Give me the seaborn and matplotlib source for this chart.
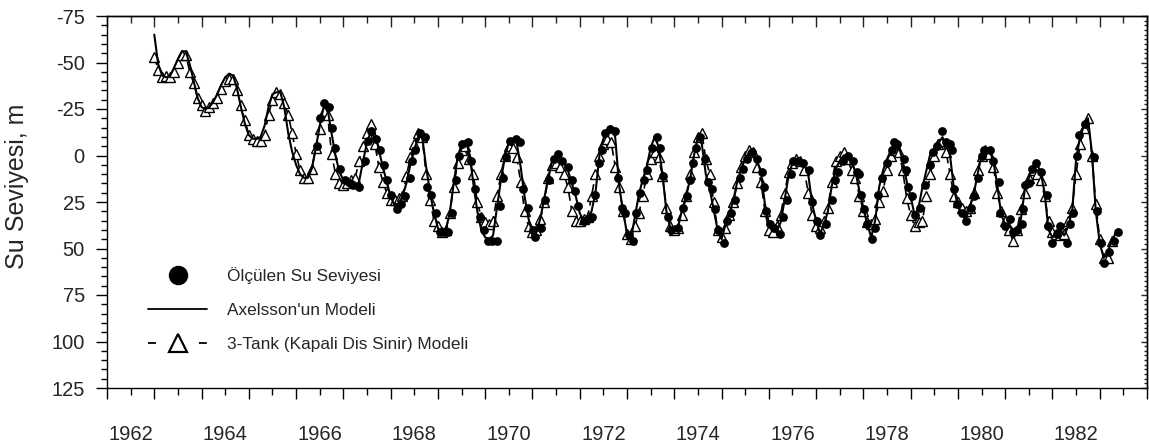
import numpy as np
import pandas as pd
import matplotlib
matplotlib.use("Agg")
import matplotlib.pyplot as plt
from matplotlib.lines import Line2D
from matplotlib.ticker import MultipleLocator, FixedLocator, FuncFormatter, NullFormatter
import seaborn as sns

# ---- model output, monthly from January 1963 (water level, m) ----
axelsson_level = [
    -65, -49, -43, -42, -43, -47, -52, -56, -56, -49, -40, -31,   # 1963
    -26, -25, -26, -29, -33, -38, -42, -44, -43, -36, -26, -17,   # 1964
    -11, -9, -9, -10, -16, -26, -33, -34, -34, -26, -12, -2,      # 1965
    5, 10, 12, 12, 7, -4, -16, -26, -25, -12, 0, 9,               # 1966
    13, 15, 16, 17, 14, 3, -7, -13, -12, -3, 6, 14,               # 1967
    22, 27, 26, 22, 15, 5, -3, -10, -10, 6, 20, 31,               # 1968
    39, 42, 40, 31, 15, 1, -6, -8, -1, 15, 30, 40,                # 1969
    44, 45, 43, 28, 13, 1, -7, -9, -7, 6, 22, 34,                 # 1970
    42, 41, 34, 23, 12, 3, -1, 1, 4, 8, 15, 22,                   # 1971
    31, 35, 34, 30, 20, 0, -9, -14, -14, -10, 16, 30,             # 1972
    42, 45, 33, 21, 13, 6, -4, -10, -5, 10, 30, 39,               # 1973
    40, 38, 29, 22, 13, 0, -10, -6, 10, 18, 29, 40,               # 1974
    45, 37, 31, 24, 14, 7, 2, -2, -1, 3, 9, 26,                   # 1975
    36, 39, 41, 36, 24, 11, 4, 2, 3, 5, 10, 26,                   # 1976
    35, 42, 37, 30, 16, 7, 3, 0, 0, 3, 9, 19,                     # 1977
    28, 37, 44, 35, 17, 8, 2, -3, -7, -5, 3, 14,                  # 1978
    22, 32, 28, 17, 8, -1, -4, -8, -9, -6, 0, 18,                 # 1979
    27, 32, 34, 28, 21, 10, 0, -3, -3, 3, 16, 32,                 # 1980
    37, 37, 40, 40, 34, 18, 12, 6, 4, 9, 20, 40,                  # 1981
    44, 42, 40, 43, 38, 30, 2, -10, -16, -20, -2, 30,             # 1982
    47, 55, 52, 46, 42,                                           # 1983
]

tank3_level = [
    -53, -46, -42, -43, -42, -45, -50, -54, -54, -45, -39, -31,   # 1963
    -27, -24, -26, -28, -31, -36, -40, -41, -41, -35, -27, -19,   # 1964
    -11, -9, -8, -8, -11, -22, -30, -34, -33, -28, -22, -12,      # 1965
    -1, 8, 12, 12, 7, -4, -14, -24, -22, -1, 10, 15,              # 1966
    16, 15, 13, 12, 3, -5, -12, -17, -6, 6, 14, 20,               # 1967
    24, 24, 23, 22, 11, 1, -6, -12, -10, 10, 24, 35,              # 1968
    38, 41, 40, 31, 17, 4, -3, -5, 2, 10, 25, 33,                 # 1969
    36, 37, 35, 22, 10, 0, -5, -4, 1, 14, 30, 38,                 # 1970
    41, 40, 34, 25, 12, 5, 4, 6, 10, 17, 30, 35,                  # 1971
    35, 34, 33, 22, 10, 0, -6, -9, -7, 6, 17, 30,                 # 1972
    42, 45, 38, 31, 22, 10, 2, -2, 1, 11, 28, 38,                 # 1973
    40, 39, 32, 22, 10, -2, -10, -12, 2, 10, 25, 40,              # 1974
    44, 39, 32, 25, 15, 6, 0, -3, -2, 6, 14, 30,                  # 1975
    40, 41, 38, 32, 20, 9, 4, 2, 3, 8, 20, 32,                    # 1976
    38, 39, 35, 28, 14, 3, 0, -2, 2, 8, 12, 22,                   # 1977
    30, 36, 37, 34, 25, 19, 8, 0, -3, -2, 8, 23,                  # 1978
    32, 38, 36, 35, 22, 10, 0, -6, -8, -2, 10, 22,                # 1979
    25, 28, 30, 28, 20, 8, 0, -3, -1, 6, 20, 30,                  # 1980
    35, 40, 46, 40, 29, 20, 12, 8, 10, 13, 22, 35,                # 1981
    41, 42, 43, 42, 35, 28, 10, -6, -15, -20, 0, 26,              # 1982
    45, 55, 55, 46,                                               # 1983
]

# ---- measured water level (decimal year, m) ----
measured_year = [
    1966.45, 1966.50, 1966.60, 1966.70, 1966.76, 1966.83, 1966.92,
    1967.03, 1967.13, 1967.21, 1967.33, 1967.46, 1967.53, 1967.58, 1967.68, 1967.77, 1967.85, 1967.92,
    1968.00, 1968.13, 1968.22, 1968.30, 1968.40, 1968.45, 1968.52, 1968.62, 1968.72, 1968.77, 1968.86, 1968.96,
    1969.04, 1969.13, 1969.22, 1969.29, 1969.39, 1969.45, 1969.51, 1969.63, 1969.71, 1969.79, 1969.89, 1969.97,
    1970.06, 1970.15, 1970.24, 1970.31, 1970.38, 1970.45, 1970.53, 1970.65, 1970.74, 1970.81, 1970.91,
    1971.02, 1971.06, 1971.19, 1971.27, 1971.35, 1971.45, 1971.55, 1971.63, 1971.76, 1971.83, 1971.90, 1971.97,
    1972.08, 1972.17, 1972.25, 1972.33, 1972.40, 1972.47, 1972.54, 1972.64, 1972.75, 1972.82, 1972.89, 1972.95,
    1973.05, 1973.12, 1973.20, 1973.28, 1973.35, 1973.42, 1973.52, 1973.63, 1973.70, 1973.77, 1973.86, 1973.94,
    1974.08, 1974.19, 1974.26, 1974.33, 1974.39, 1974.46, 1974.55, 1974.65, 1974.72, 1974.79, 1974.86, 1974.93,
    1975.05, 1975.12, 1975.21, 1975.28, 1975.39, 1975.46, 1975.53, 1975.64, 1975.74, 1975.85, 1975.90, 1975.93,
    1976.03, 1976.10, 1976.24, 1976.31, 1976.38, 1976.46, 1976.52, 1976.62, 1976.72, 1976.84, 1976.91,
    1977.01, 1977.08, 1977.22, 1977.33, 1977.40, 1977.47, 1977.57, 1977.68, 1977.78, 1977.86, 1977.91, 1977.96,
    1978.01, 1978.08, 1978.18, 1978.25, 1978.32, 1978.40, 1978.49, 1978.60, 1978.64, 1978.72, 1978.85, 1978.90, 1978.95,
    1979.02, 1979.09, 1979.20, 1979.30, 1979.40, 1979.48, 1979.55, 1979.66, 1979.75, 1979.83, 1979.88, 1979.91, 1979.98,
    1980.08, 1980.18, 1980.28, 1980.35, 1980.43, 1980.50, 1980.55, 1980.68, 1980.75, 1980.86, 1980.90,
    1981.00, 1981.10, 1981.17, 1981.25, 1981.35, 1981.38, 1981.42, 1981.50, 1981.56, 1981.65, 1981.75, 1981.88, 1981.91, 1981.98,
    1982.09, 1982.17, 1982.30, 1982.37, 1982.44, 1982.51, 1982.56, 1982.69, 1982.87, 1982.94,
    1983.02, 1983.08, 1983.20, 1983.30, 1983.39,
]
measured_level = [
    -5, -20, -28, -26, -15, -4, 7,
    13, 15, 16, 17, 3, -8, -13, -9, -3, 5, 13,
    21, 29, 26, 22, 12, 3, -3, -12, -10, 17, 21, 31,
    41, 41, 41, 31, 13, 0, -6, -7, 3, 18, 33, 40,
    46, 46, 46, 27, 12, 1, -8, -9, -7, 18, 28,
    40, 44, 39, 24, 13, 2, -1, 3, 6, 13, 19, 27,
    35, 34, 33, 21, 4, -3, -12, -14, -13, 12, 28, 31,
    43, 46, 31, 20, 13, 8, -4, -10, -4, 11, 33, 40,
    39, 28, 22, 13, 4, -4, -10, 2, 14, 18, 29, 40,
    47, 35, 31, 24, 12, 7, 2, -2, 2, 9, 17, 30,
    37, 39, 42, 33, 24, 10, 3, 3, 4, 8, 25,
    35, 43, 37, 24, 13, 9, 3, 0, 3, 9, 10, 21,
    29, 37, 45, 39, 21, 12, 4, -3, -7, -6, 2, 8, 17,
    22, 32, 28, 16, 5, -2, -5, -13, -7, -6, -3, 18, 26,
    31, 35, 28, 22, 12, 0, -3, -3, 3, 14, 31,
    38, 34, 41, 40, 37, 29, 16, 15, 7, 4, 9, 21, 38, 47,
    42, 38, 47, 37, 31, 0, -11, -17, 1, 30,
    47, 58, 52, 46, 41,
]

legend_labels = ["Ölçülen Su Seviyesi", "Axelsson'un Modeli", "3-Tank (Kapali Dis Sinir) Modeli"]
year_labels = list(range(1962, 1983, 2))


def to_decimal_year(dates):
    return dates.year + (dates.month - 1) / 12.0


axel_df = pd.DataFrame({
    "year": to_decimal_year(pd.date_range("1963-01-01", periods=len(axelsson_level), freq="MS")),
    "level": axelsson_level,
})
tank_df = pd.DataFrame({
    "year": to_decimal_year(pd.date_range("1963-01-01", periods=len(tank3_level), freq="MS")),
    "level": tank3_level,
})
meas_df = pd.DataFrame({"year": measured_year, "level": measured_level})

sns.set_theme(style="white")
plt.rcParams["font.family"] = ["Liberation Sans", "DejaVu Sans"]
plt.rcParams["axes.unicode_minus"] = False

fig = plt.figure(figsize=(11.49, 4.47), dpi=100)
ax = fig.add_axes([107 / 1149, 59 / 447, 1040 / 1149, 372 / 447])

# 3-tank model: dashed line with open triangles
sns.lineplot(data=tank_df, x="year", y="level", ax=ax, estimator=None, sort=False,
             color="black", linewidth=1.2, linestyle=(0, (5, 3)),
             marker="^", markersize=6.5, markerfacecolor="white",
             markeredgecolor="black", markeredgewidth=1.0, zorder=2)
# Axelsson model: solid line
sns.lineplot(data=axel_df, x="year", y="level", ax=ax, estimator=None, sort=False,
             color="black", linewidth=1.5, zorder=3)
# measured levels: filled circles
sns.scatterplot(data=meas_df, x="year", y="level", ax=ax, color="black",
                s=40, edgecolor="black", linewidth=0, zorder=4)

ax.set_xlim(1962, 1984)
ax.set_ylim(125, -75)

# x axis: year ticks, labels centred in the year interval
ax.xaxis.set_major_locator(MultipleLocator(1))
ax.xaxis.set_major_formatter(NullFormatter())
ax.xaxis.set_minor_locator(FixedLocator([y + 0.5 for y in range(1962, 1984)]))
ax.xaxis.set_minor_formatter(FuncFormatter(
    lambda v, p: str(int(v)) if int(v) in year_labels else ""))
ax.tick_params(axis="x", which="major", bottom=True, top=False, direction="out",
               length=8, width=1, color="black")
ax.tick_params(axis="x", which="minor", bottom=True, top=False, direction="out",
               length=5, width=1, color="black", labelsize=14.5, pad=22)

ax.yaxis.set_major_locator(MultipleLocator(25))
ax.yaxis.set_minor_locator(MultipleLocator(5))
ax.tick_params(axis="y", which="major", left=True, right=False, direction="out",
               length=8, width=1, color="black", labelsize=14.5, pad=8)
ax.tick_params(axis="y", which="minor", left=True, right=False, direction="out",
               length=4.5, width=1, color="black")

# top and right edges carry inward ticks
top = ax.secondary_xaxis("top")
top.xaxis.set_major_locator(MultipleLocator(1))
top.xaxis.set_minor_locator(MultipleLocator(0.5))
top.tick_params(which="major", direction="in", length=8, width=1, labeltop=False)
top.tick_params(which="minor", direction="in", length=5, width=1)
right = ax.secondary_yaxis("right")
right.yaxis.set_major_locator(MultipleLocator(25))
right.yaxis.set_minor_locator(MultipleLocator(2.5))
right.tick_params(which="major", direction="in", length=4, width=1, labelright=False)
right.tick_params(which="minor", direction="in", length=2.5, width=1)
for sec in (top, right):
    for sp in sec.spines.values():
        sp.set_linewidth(1.0)
        sp.set_color("black")

for sp in ax.spines.values():
    sp.set_visible(True)
    sp.set_linewidth(1.0)
    sp.set_color("black")

ax.set_xlabel("")
ax.set_ylabel("Su Seviyesi, m", fontsize=18)
ax.yaxis.set_label_coords(-0.075, 0.543)

handles = [
    Line2D([], [], linestyle="none", marker="o", markersize=13, color="black"),
    Line2D([], [], color="black", linewidth=1.3),
    Line2D([], [], color="black", linewidth=1.3, linestyle=(0, (4.4, 23.8)),
           marker="^", markersize=13, markerfacecolor="white",
           markeredgecolor="black", markeredgewidth=1.6),
]
ax.legend(handles, legend_labels, loc="upper left", bbox_to_anchor=(0.0394, 0.325),
          frameon=False, fontsize=12.4, handlelength=3.43, handletextpad=1.15,
          labelspacing=1.1, borderpad=0, borderaxespad=0)

fig.savefig("out.png", dpi=100)
